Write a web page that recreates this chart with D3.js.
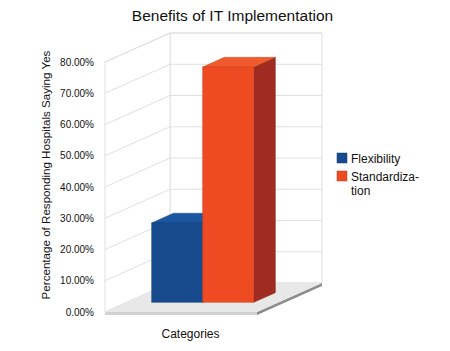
<!DOCTYPE html>
<html><head><meta charset="utf-8">
<script src="https://cdn.jsdelivr.net/npm/d3@7"></script>
<style>body{margin:0;background:#fff}svg{display:block;font-family:"Liberation Sans",Arial,sans-serif}</style>
</head><body>
<svg id="c" width="450" height="351"></svg>
<script>
const categories = ["Categories"];
const seriesNames = ["Flexibility", "Standardization"];
const legendLabels = [["Flexibility"], ["Standardiza-", "tion"]];
const seriesValues = [0.254, 0.753];
const yTicks = [0, 0.1, 0.2, 0.3, 0.4, 0.5, 0.6, 0.7, 0.8];
const frontColors = ["#174b8e", "#ee4b23"];
const topColors = ["#1b56a0", "#f05a2c"];
const sideColors = ["#12397a", "#a02b20"];

const svg = d3.select("#c");
const DX = 65, DY = -29;
const y = d3.scaleLinear().domain([0, 0.8]).range([312, 62]);
const x0 = d3.scaleBand().domain(categories).range([105, 257]).paddingOuter(0.245);
const x1 = d3.scaleBand().domain(seriesNames).range([0, x0.bandwidth()]);
const P = (x, yy, d) => [x + DX * d, yy + DY * d];
const poly = pts => pts.map(p => p.join(",")).join(" ");

// back wall
svg.append("polygon").attr("points", poly([P(105, y(0.8), 1), P(257, y(0.8), 1), P(257, y(0), 1), P(105, y(0), 1)]))
  .attr("fill", "#fff").attr("stroke", "#e0e0e0");
// left wall
svg.append("polygon").attr("points", poly([P(105, y(0.8), 0), P(105, y(0.8), 1), P(105, y(0), 1), P(105, y(0), 0)]))
  .attr("fill", "#fff").attr("stroke", "#e0e0e0");
// grid lines
yTicks.forEach(t => {
  const a = P(105, y(t), 0), b = P(105, y(t), 1), c = P(257, y(t), 1);
  svg.append("polyline").attr("points", poly([a, b, c])).attr("fill", "none").attr("stroke", "#e0e0e0");
});
// tick labels
svg.append("g").selectAll("text").data(yTicks).join("text")
  .attr("x", 94).attr("y", d => y(d) + 3.5).attr("text-anchor", "end")
  .attr("font-size", 10).attr("fill", "#111").text(d => d3.format(".2%")(d));

// floor
svg.append("polygon").attr("points", poly([P(105, y(0), 0), P(257, y(0), 0), P(257, y(0) + 3, 0), P(105, y(0) + 3, 0)])).attr("fill", "#d2d2d2");
svg.append("polygon").attr("points", poly([P(257, y(0), 0), P(257, y(0), 1), P(257, y(0) + 3, 1), P(257, y(0) + 3, 0)])).attr("fill", "#8c8c8c");
svg.append("polygon").attr("points", poly([P(105, y(0), 0), P(257, y(0), 0), P(257, y(0), 1), P(105, y(0), 1)])).attr("fill", "#e8e8e8");

// bars
const d0 = 1 / 3, d1 = 2 / 3;
seriesNames.forEach((s, i) => {
  const xl = x0(categories[0]) + x1(s), xr = xl + x1.bandwidth();
  const v = seriesValues[i];
  const g = svg.append("g");
  g.append("polygon").attr("points", poly([P(xr, y(v), d0), P(xr, y(v), d1), P(xr, y(0), d1), P(xr, y(0), d0)]))
    .attr("fill", sideColors[i]).attr("stroke", d3.color(sideColors[i]).darker(0.5)).attr("stroke-width", 0.5);
  g.append("polygon").attr("points", poly([P(xl, y(v), d0), P(xr, y(v), d0), P(xr, y(v), d1), P(xl, y(v), d1)]))
    .attr("fill", topColors[i]).attr("stroke", d3.color(topColors[i]).darker(0.5)).attr("stroke-width", 0.5);
  g.append("polygon").attr("points", poly([P(xl, y(v), d0), P(xr, y(v), d0), P(xr, y(0), d0), P(xl, y(0), d0)]))
    .attr("fill", frontColors[i]).attr("stroke", d3.color(frontColors[i]).darker(0.5)).attr("stroke-width", 0.5);
});

// title
svg.append("text").attr("x", 232.5).attr("y", 21).attr("text-anchor", "middle").attr("font-size", 15.5).attr("fill", "#111").text("Benefits of IT Implementation");
// y title
svg.append("text").attr("transform", "translate(50,175) rotate(-90)").attr("text-anchor", "middle").attr("font-size", 11.6).attr("fill", "#111")
  .text("Percentage of Responding Hospitals Saying Yes");
// x title
svg.append("text").attr("x", 190.5).attr("y", 338).attr("text-anchor", "middle").attr("font-size", 12).attr("fill", "#111").text(categories[0]);

// legend
const lg = svg.append("g");
const legY = [153, 171];
seriesNames.forEach((s, i) => {
  lg.append("rect").attr("x", 337).attr("y", legY[i]).attr("width", 10).attr("height", 10).attr("fill", frontColors[i]).attr("stroke", d3.color(frontColors[i]).darker(0.6)).attr("stroke-width", 0.5);
  legendLabels[i].forEach((t, j) => {
    lg.append("text").attr("x", 351).attr("y", legY[i] + 10 + j * 14).attr("font-size", 12).attr("fill", "#111").text(t);
  });
});
</script>
</body></html>
